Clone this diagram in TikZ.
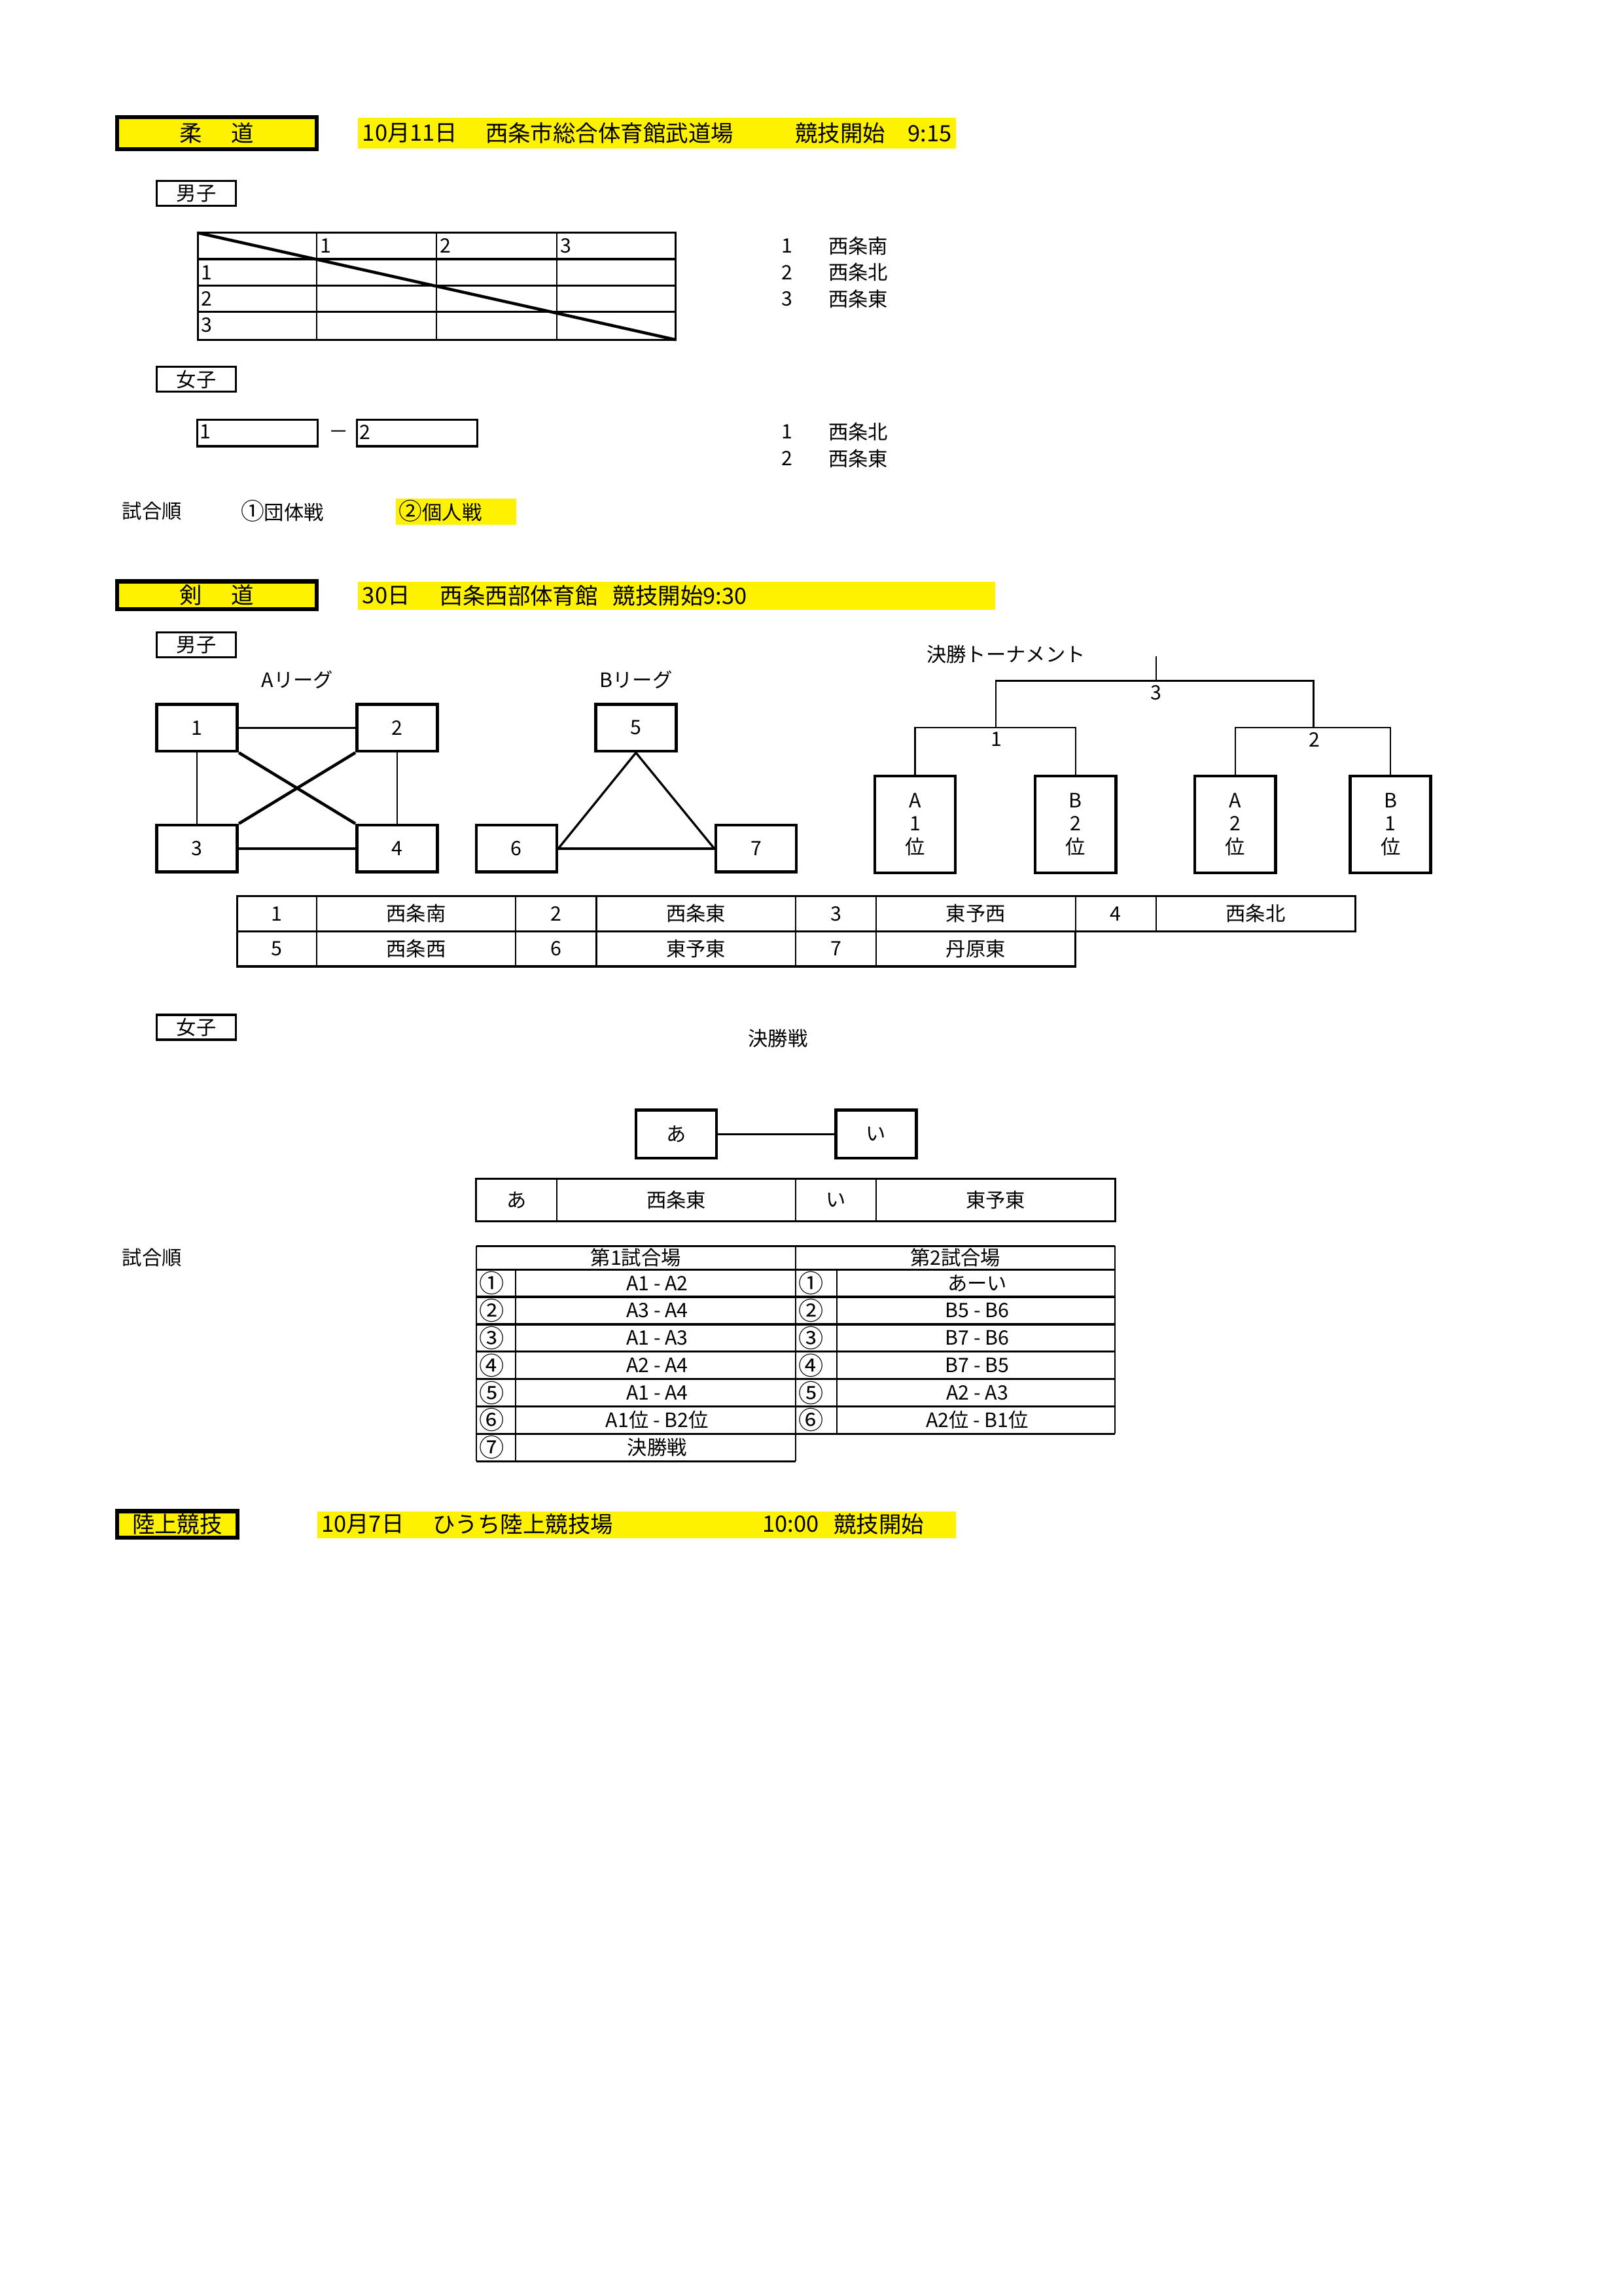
\documentclass[tikz,border=0pt]{standalone}
\usepackage{fontspec}
\setmainfont{Noto Sans CJK JP}
\newdimen\U \U=0.18953mm
\newcommand\fsz[1]{\fontsize{#1}{#1}\selectfont}
\newcommand\fszb{\fontsize{7.3}{8.6}\selectfont}
\begin{document}
\begin{tikzpicture}[x=0.18953mm,y=-0.18941mm,
 tx/.style={inner sep=0pt, font=\fsz{7.3}},
 circ/.style={inner sep=0pt, font=\fsz{9.2}},
 big/.style={inner sep=0pt, font=\fsz{8.3}},
 hdr/.style={draw, fill=yellow, line width=1.5pt, inner sep=0pt, font=\fsz{8.3}},
 band/.style={fill=yellow, inner sep=0pt, anchor=north west},
 tag/.style={draw, line width=0.8pt, inner sep=0pt, font=\fsz{7.3}, minimum width=54\U, minimum height=17\U},
 tbox/.style={draw, line width=1.1pt, inner sep=0pt, font=\fsz{7.3}},
 vbox/.style={draw, line width=1.1pt, inner sep=0pt, font=\fszb, align=center, minimum width=55\U, minimum height=66\U},
 thinl/.style={line width=0.55pt},
 midl/.style={line width=0.8pt},
 thkl/.style={line width=1.1pt}]
\useasboundingbox (0,0) rectangle (1108,1568);

% ===== Judo =====
\node[hdr, minimum width=136\U, minimum height=22\U] (judo) at (148,91) {柔\hspace{1.3em}道};
\node[band, minimum width=408\U, minimum height=21\U] (judoband) at (244,80) {};
\node[big, anchor=west] (judo1) at (247,91) {10月11日};
\node[big, anchor=west] (judo2) at (331,91) {西条市総合体育館武道場};
\node[big, anchor=east] (judo3) at (650,91) {競技開始　9:15};

\node[tag] (jm) at (134,132) {男子};
% round robin table
\draw[midl] (135,159) rectangle (461,232);
\foreach \yy in {177,195,213} \draw[midl] (135,\yy) -- (461,\yy);
\foreach \xx in {216,298,380} \draw[thinl] (\xx,159) -- (\xx,232);
\draw[thkl] (135,159) -- (461,232);
\node[tx, anchor=west] (jh1) at (218,168) {1};
\node[tx, anchor=west] (jh2) at (300,168) {2};
\node[tx, anchor=west] (jh3) at (382,168) {3};
\node[tx, anchor=west] (jr1) at (137,186) {1};
\node[tx, anchor=west] (jr2) at (137,204) {2};
\node[tx, anchor=west] (jr3) at (137,222) {3};
\node[tx] (jl1n) at (537,168) {1};
\node[tx, anchor=west] (jl1) at (565,168) {西条南};
\node[tx] (jl2n) at (537,186) {2};
\node[tx, anchor=west] (jl2) at (565,186) {西条北};
\node[tx] (jl3n) at (537,204) {3};
\node[tx, anchor=west] (jl3) at (565,204) {西条東};

\node[tag] (jw) at (134,259) {女子};
\node[draw, midl, inner sep=0pt, minimum width=82\U, minimum height=18\U, anchor=north west] (jwa) at (134,286) {};
\node[tx, anchor=west] (jwa1) at (136,295) {1};
\node[tx] (jwdash) at (231,297) {－};
\node[draw, midl, inner sep=0pt, minimum width=82\U, minimum height=18\U, anchor=north west] (jwb) at (243,286) {};
\node[tx, anchor=west] (jwb2) at (245,295) {2};
\node[tx] (jwl1n) at (537,295) {1};
\node[tx, anchor=west] (jwl1) at (565,295) {西条北};
\node[tx] (jwl2n) at (537,313) {2};
\node[tx, anchor=west] (jwl2) at (565,313) {西条東};

\node[tx, anchor=west] (jorder) at (83,349) {試合順};
\node[tx, anchor=west] (jo1) at (164,349) {{\fsz{8.6}①}団体戦};
\node[band, minimum width=82\U, minimum height=18\U] (jo2band) at (270,340) {};
\node[tx, anchor=west] (jo2) at (272,349) {{\fsz{8.6}②}個人戦};

% ===== Kendo =====
\node[hdr, minimum width=136\U, minimum height=19\U] (kendo) at (148,406.5) {剣\hspace{1.3em}道};
\node[band, minimum width=435\U, minimum height=19\U] (kendoband) at (244,397) {};
\node[big, anchor=west] (kendo1) at (247,407) {30日};
\node[big, anchor=west] (kendo2) at (300,407) {西条西部体育館};
\node[big, anchor=west] (kendo3) at (418,407) {競技開始9:30};

\node[tag] (km) at (134,440.5) {男子};
\node[tx] (alg) at (203,464) {Aリーグ};
\node[tx] (blg) at (434,464) {Bリーグ};

\node[tbox, minimum width=55\U, minimum height=32\U] (a1) at (134.5,497) {1};
\node[tbox, minimum width=55\U, minimum height=32\U] (a2) at (271,497) {2};
\node[tbox, minimum width=55\U, minimum height=32\U] (a3) at (134.5,579.5) {3};
\node[tbox, minimum width=55\U, minimum height=32\U] (a4) at (271,579.5) {4};
\draw[midl] (a1) -- (a2);
\draw[thinl] (a1) -- (a3);
\draw[thinl] (a2) -- (a4);
\draw[midl] (a3) -- (a4);
\draw[thkl] (a1.south east) -- (a4.north west);
\draw[thkl] (a2.south west) -- (a3.north east);

\node[tbox, minimum width=55\U, minimum height=32\U] (b5) at (434,497) {5};
\node[tbox, minimum width=55\U, minimum height=32\U] (b6) at (352.5,579.5) {6};
\node[tbox, minimum width=55\U, minimum height=32\U] (b7) at (516,579.5) {7};
\draw[midl] (b5.south) -- (b6.east);
\draw[midl] (b5.south) -- (b7.west);
\draw[midl] (b6) -- (b7);

\node[tx, anchor=west] (ktour) at (632,447) {決勝トーナメント};
\node[vbox] (t1) at (624.5,563) {A\\1\\位};
\node[vbox] (t2) at (734,563) {B\\2\\位};
\node[vbox] (t3) at (843,563) {A\\2\\位};
\node[vbox] (t4) at (949,563) {B\\1\\位};
\coordinate (m1) at (679.5,497);
\coordinate (m2) at (896.5,497);
\coordinate (m3) at (789,465);
\coordinate (mtop) at (789,448);
\draw[thinl] (t1.north) |- (m1) -| (t2.north);
\draw[thinl] (t3.north) |- (m2) -| (t4.north);
\draw[thinl] (m1) |- (m3) -| (m2);
\draw[thinl] (m3) -- (mtop);
\node[tx] (tl3) at (789,473) {3};
\node[tx] (tl1) at (680,505) {1};
\node[tx] (tl2) at (897,505) {2};

% team table
\draw[midl] (162,612) rectangle (925,636);
\draw[midl] (162,636) rectangle (734,660);
\foreach \xx in {216,352,407,543,598,734,789} \draw[thinl] (\xx,612) -- (\xx,636);
\foreach \xx in {216,352,407,543,598} \draw[thinl] (\xx,636) -- (\xx,660);
\node[tx] (tm1) at (189,624) {1};
\node[tx] (tm1n) at (284,624) {西条南};
\node[tx] (tm2) at (379.5,624) {2};
\node[tx] (tm2n) at (475,624) {西条東};
\node[tx] (tm3) at (570.5,624) {3};
\node[tx] (tm3n) at (666,624) {東予西};
\node[tx] (tm4) at (761.5,624) {4};
\node[tx] (tm4n) at (857,624) {西条北};
\node[tx] (tm5) at (189,648) {5};
\node[tx] (tm5n) at (284,648) {西条西};
\node[tx] (tm6) at (379.5,648) {6};
\node[tx] (tm6n) at (475,648) {東予東};
\node[tx] (tm7) at (570.5,648) {7};
\node[tx] (tm7n) at (666,648) {丹原東};

% women kendo
\node[tag] (kw) at (134,701.5) {女子};
\node[tx] (kfinal) at (531,709) {決勝戦};
\node[tbox, minimum width=55\U, minimum height=33\U] (wa) at (461.5,774.5) {あ};
\node[tbox, minimum width=55\U, minimum height=33\U] (wi) at (598,774.5) {い};
\draw[midl] (wa) -- (wi);
\draw[midl] (325,805) rectangle (761,834);
\foreach \xx in {380,543,598} \draw[thinl] (\xx,805) -- (\xx,834);
\node[tx] (wta) at (352.5,819.5) {あ};
\node[tx] (wtan) at (461.5,819.5) {西条東};
\node[tx] (wti) at (570.5,819.5) {い};
\node[tx] (wtin) at (679.5,819.5) {東予東};

% schedule
\node[tx, anchor=west] (korder) at (83,859) {試合順};
\draw[midl] (325,851) -- (761,851);
\draw[midl] (325,867) -- (761,867);
\foreach \k in {1,...,6} \draw[midl] (325,867+18.7*\k) -- (761,867+18.7*\k);
\draw[midl] (325,997.9) -- (543,997.9);
\draw[thinl] (325,851) -- (325,997.9);
\draw[thinl] (543,851) -- (543,997.9);
\draw[thinl] (761,851) -- (761,979.2);
\draw[thinl] (352,867) -- (352,997.9);
\draw[thinl] (571,867) -- (571,979.2);
\node[tx] (s1h) at (434,859) {第1試合場};
\node[tx] (s2h) at (652,859) {第2試合場};
\foreach \k/\c/\l in {1/①/A1 - A2, 2/②/A3 - A4, 3/③/A1 - A3, 4/④/A2 - A4, 5/⑤/A1 - A4, 6/⑥/A1位 - B2位, 7/⑦/決勝戦}
  {\node[circ] (sl\k c) at (335.5,857.65+18.7*\k) {\c};
   \node[tx] (sl\k) at (448.5,857.65+18.7*\k) {\l};}
\foreach \k/\c/\l in {1/①/あーい, 2/②/B5 - B6, 3/③/B7 - B6, 4/④/B7 - B5, 5/⑤/A2 - A3, 6/⑥/A2位 - B1位}
  {\node[circ] (sr\k c) at (553.5,857.65+18.7*\k) {\c};
   \node[tx] (sr\k) at (667,857.65+18.7*\k) {\l};}

% ===== Athletics =====
\node[hdr, minimum width=82\U, minimum height=18\U] (riku) at (121,1041) {陸上競技};
\node[band, minimum width=436\U, minimum height=18\U] (rikuband) at (216,1032) {};
\node[big, anchor=west] (riku1) at (219,1041) {10月7日};
\node[big, anchor=west] (riku2) at (295,1041) {ひうち陸上競技場};
\node[big, anchor=west] (riku3) at (520,1041) {10:00};
\node[big, anchor=east] (riku4) at (631,1041) {競技開始};
\end{tikzpicture}
\end{document}
